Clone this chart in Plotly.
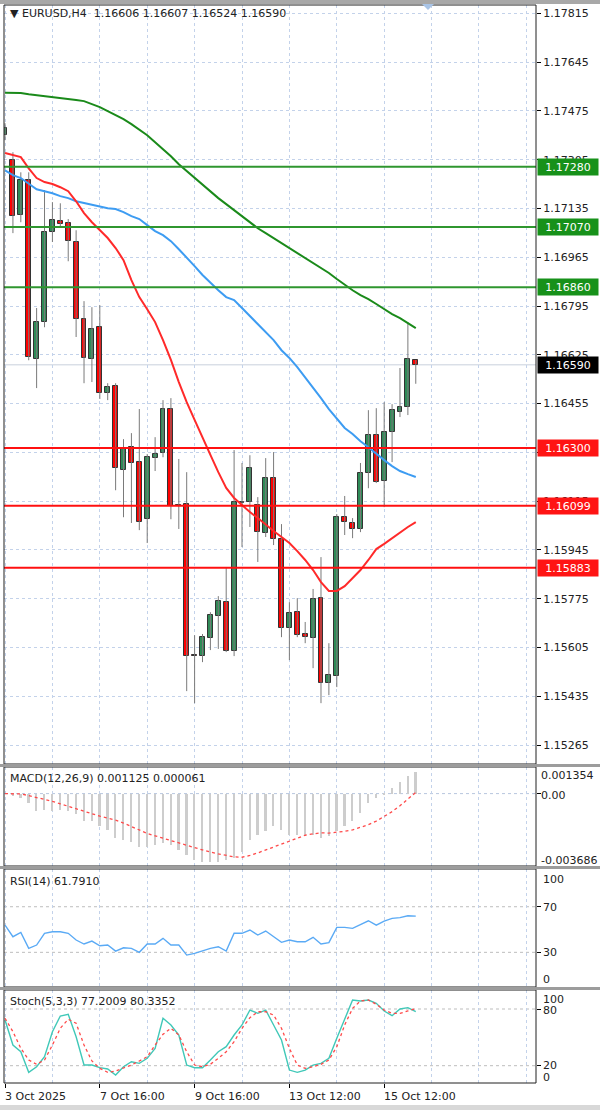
import plotly.graph_objects as go

# ---------------- data ----------------
bar_index = list(range(53))
opens = [1.17390, 1.17303, 1.17112, 1.17234, 1.16610, 1.16739, 1.17052, 1.17091, 1.17084, 1.17018,
         1.16749, 1.16610, 1.16721, 1.16491, 1.16516, 1.16223, 1.16303, 1.16251, 1.16052, 1.16265,
         1.16282, 1.16436, 1.16101, 1.16105, 1.15579, 1.15575, 1.15638, 1.15715, 1.15763, 1.15593,
         1.16112, 1.16112, 1.16101, 1.16004, 1.16195, 1.15983, 1.15673, 1.15728, 1.15652, 1.15638,
         1.15777, 1.15481, 1.15505, 1.16059, 1.16039, 1.16018, 1.16213, 1.16345, 1.16185, 1.16356,
         1.16425, 1.16443, 1.16606]
highs = [1.17432, 1.17331, 1.17261, 1.17261, 1.16788, 1.17199, 1.17157, 1.17153, 1.17098, 1.17059,
         1.16812, 1.16791, 1.16798, 1.16526, 1.16526, 1.16331, 1.16352, 1.16436, 1.16279, 1.16338,
         1.16467, 1.16474, 1.16262, 1.16216, 1.15648, 1.15652, 1.15728, 1.15784, 1.15882, 1.16293,
         1.16248, 1.16275, 1.16129, 1.16265, 1.16286, 1.16035, 1.15763, 1.15777, 1.15694, 1.15809,
         1.15920, 1.15620, 1.16070, 1.16133, 1.16056, 1.16248, 1.16432, 1.16439, 1.16460, 1.16453,
         1.16579, 1.16739, 1.16607]
lows = [1.17373, 1.17049, 1.17087, 1.16606, 1.16509, 1.16721, 1.17018, 1.17070, 1.16951, 1.16687,
        1.16526, 1.16530, 1.16471, 1.16467, 1.16153, 1.16059, 1.16039, 1.16014, 1.15969, 1.16220,
        1.16268, 1.16052, 1.16018, 1.15453, 1.15411, 1.15554, 1.15596, 1.15600, 1.15589, 1.15575,
        1.15955, 1.16025, 1.15903, 1.15990, 1.15962, 1.15641, 1.15561, 1.15641, 1.15620, 1.15533,
        1.15411, 1.15439, 1.15467, 1.15997, 1.15986, 1.16007, 1.16160, 1.16178, 1.16094, 1.16251,
        1.16408, 1.16415, 1.16524]
closes = [1.17415, 1.17108, 1.17234, 1.16617, 1.16739, 1.17052, 1.17094, 1.17080, 1.17021, 1.16749,
          1.16613, 1.16714, 1.16491, 1.16512, 1.16230, 1.16296, 1.16248, 1.16042, 1.16268, 1.16279,
          1.16436, 1.16098, 1.16098, 1.15575, 1.15575, 1.15641, 1.15718, 1.15767, 1.15593, 1.16112,
          1.16108, 1.16230, 1.16007, 1.16195, 1.15983, 1.15673, 1.15725, 1.15648, 1.15641, 1.15774,
          1.15481, 1.15509, 1.16059, 1.16042, 1.16018, 1.16213, 1.16345, 1.16181, 1.16356, 1.16432,
          1.16443, 1.16610, 1.16590]

ma_slow = [1.17538, 1.17538, 1.17537, 1.17533, 1.17530, 1.17527, 1.17523, 1.17520, 1.17516, 1.17513,
           1.17509, 1.17498, 1.17488, 1.17474, 1.17460, 1.17446, 1.17429, 1.17411, 1.17390, 1.17366,
           1.17342, 1.17317, 1.17289, 1.17265, 1.17241, 1.17216, 1.17192, 1.17171, 1.17150, 1.17129,
           1.17108, 1.17087, 1.17066, 1.17049, 1.17032, 1.17014, 1.16997, 1.16979, 1.16962, 1.16944,
           1.16927, 1.16910, 1.16889, 1.16868, 1.16850, 1.16833, 1.16819, 1.16802, 1.16784, 1.16767,
           1.16753, 1.16735, 1.16718]
ma_mid = [1.17268, 1.17251, 1.17241, 1.17220, 1.17202, 1.17195, 1.17188, 1.17178, 1.17171, 1.17160,
          1.17154, 1.17147, 1.17140, 1.17136, 1.17133, 1.17122, 1.17108, 1.17098, 1.17077, 1.17056,
          1.17042, 1.17021, 1.16993, 1.16965, 1.16934, 1.16903, 1.16875, 1.16850, 1.16826, 1.16816,
          1.16788, 1.16760, 1.16732, 1.16704, 1.16676, 1.16641, 1.16614, 1.16582, 1.16547, 1.16512,
          1.16474, 1.16436, 1.16401, 1.16370, 1.16349, 1.16324, 1.16303, 1.16279, 1.16258, 1.16237,
          1.16220, 1.16209, 1.16199]
ma_fast = [1.17328, 1.17321, 1.17314, 1.17275, 1.17241, 1.17227, 1.17220, 1.17209, 1.17195, 1.17160,
           1.17119, 1.17087, 1.17060, 1.17032, 1.16997, 1.16955, 1.16885, 1.16826, 1.16784, 1.16739,
           1.16676, 1.16607, 1.16530, 1.16460, 1.16398, 1.16335, 1.16276, 1.16216, 1.16161, 1.16126,
           1.16101, 1.16077, 1.16056, 1.16032, 1.16011, 1.15990, 1.15969, 1.15941, 1.15910, 1.15875,
           1.15833, 1.15802, 1.15802, 1.15819, 1.15847, 1.15875, 1.15910, 1.15948, 1.15966, 1.15986,
           1.16007, 1.16025, 1.16042]

macd_main = [0.0, -0.00010, -0.00020, -0.00046, -0.00089, -0.00082, -0.00089, -0.00082, -0.00089, -0.00106,
             -0.00141, -0.00141, -0.00167, -0.00184, -0.00226, -0.00235, -0.00244, -0.00270, -0.00270, -0.00261,
             -0.00253, -0.00261, -0.00286, -0.00312, -0.00338, -0.00347, -0.00347, -0.00347, -0.00338, -0.00329,
             -0.00295, -0.00235, -0.00209, -0.00192, -0.00167, -0.00184, -0.00209, -0.00209, -0.00209, -0.00209,
             -0.00226, -0.00218, -0.00192, -0.00167, -0.00141, -0.00098, -0.00046, -0.00020, -0.00003, 0.00031,
             0.00057, 0.00091, 0.001125]
macd_signal = [0.0, 0.0, -0.00002, -0.00010, -0.00020, -0.00028, -0.00040, -0.00052, -0.00065, -0.00078,
               -0.00092, -0.00103, -0.00115, -0.00125, -0.00135, -0.00150, -0.00167, -0.00185, -0.00203, -0.00215,
               -0.00228, -0.00240, -0.00252, -0.00263, -0.00275, -0.00287, -0.00298, -0.00307, -0.00316, -0.00322,
               -0.00324, -0.00315, -0.00302, -0.00287, -0.00274, -0.00258, -0.00240, -0.00225, -0.00212, -0.00205,
               -0.00200, -0.00201, -0.00198, -0.00192, -0.00185, -0.00172, -0.00158, -0.00140, -0.00118, -0.00092,
               -0.00062, -0.00030, 0.000061]

rsi = [53.9, 43.7, 47.5, 33.5, 36.4, 46.7, 48.1, 48.1, 46.7, 40.8,
       37.3, 39.9, 35.8, 36.4, 31.1, 34.0, 33.5, 30.0, 37.3, 37.3,
       42.3, 36.4, 36.4, 27.6, 29.1, 31.4, 33.5, 34.9, 31.1, 46.7,
       46.7, 49.6, 45.2, 48.7, 43.7, 38.8, 40.8, 39.3, 39.3, 43.2,
       37.3, 38.5, 51.9, 51.9, 51.0, 54.6, 57.7, 53.9, 57.4, 59.8,
       60.4, 62.1, 61.79]

stoch_k = [68.4, 41.9, 34.8, 13.0, 18.9, 29.5, 56.0, 72.6, 74.4, 50.7,
           20.7, 20.7, 17.9, 16.5, 10.2, 18.9, 24.2, 22.5, 27.8, 38.4,
           70.2, 63.1, 52.5, 20.7, 17.9, 17.9, 26.0, 34.8, 40.1, 52.5,
           63.1, 78.9, 75.4, 78.9, 63.1, 47.2, 15.4, 13.0, 15.4, 20.7,
           22.5, 27.8, 49.0, 70.2, 89.5, 88.5, 89.5, 86.0, 77.9, 72.9,
           80.0, 81.4, 77.2]
stoch_d = [70.2, 56.0, 38.4, 26.0, 21.5, 26.0, 41.9, 59.6, 69.1, 64.9,
           41.9, 25.0, 17.2, 13.0, 14.4, 17.2, 20.7, 25.0, 29.5, 41.9,
           53.2, 59.6, 52.5, 34.8, 20.7, 18.9, 21.5, 27.8, 34.8, 45.4,
           59.6, 70.8, 77.1, 77.1, 73.6, 59.6, 38.4, 20.7, 17.2, 18.9,
           21.5, 26.0, 40.1, 63.1, 80.7, 88.5, 89.5, 85.0, 78.9, 75.4,
           75.4, 77.9, 80.34]

resistance_levels = [1.17280, 1.17070, 1.16860]
support_levels = [1.16300, 1.16099, 1.15883]
last_price = 1.16590
price_ticks = [1.17815, 1.17645, 1.17475, 1.17305, 1.17135, 1.16965, 1.16795, 1.16625,
               1.16455, 1.16285, 1.16115, 1.15945, 1.15775, 1.15605, 1.15435, 1.15265]
x_tick_index = [0, 12, 24, 36, 48]
x_tick_labels = ["3 Oct 2025", "7 Oct 16:00", "9 Oct 16:00", "13 Oct 12:00", "15 Oct 12:00"]
macd_labels = ["0.001354", "0.00", "-0.003686"]
rsi_labels = ["100", "70", "30", "0"]
stoch_labels = ["100", "80", "20", "0"]

# ---------------- layout helpers ----------------
W, H = 600, 1110
L, R, T, B = 4, 64, 5, 27
PW = W - L - R
PH = H - T - B


def fx(px):
    return (px - L) / PW


def fy(py):
    return (H - B - py) / PH


FONT = "DejaVu Sans"
GRID = "#c3d2ea"
GDASH = "3px,3px"
X_RANGE = [-0.13, 67.22]
BULL = "#2e8b57"
BEAR = "#ff0000"

fig = go.Figure()

# candles: wicks
wx, wy = [], []
for i, hi, lo in zip(bar_index, highs, lows):
    wx += [i, i, None]
    wy += [lo, hi, None]
fig.add_trace(go.Scatter(x=wx, y=wy, mode="lines", line=dict(color="#7a7a7a", width=1),
                         hoverinfo="skip", xaxis="x", yaxis="y"))
# candles: bodies
base = [min(o, c) for o, c in zip(opens, closes)]
height = [max(abs(c - o), 0.00002) for o, c in zip(opens, closes)]
colors = [BULL if c > o else BEAR for o, c in zip(opens, closes)]
fig.add_trace(go.Bar(x=bar_index, y=height, base=base, width=0.62,
                     marker=dict(color=colors, line=dict(color="#333333", width=1)),
                     xaxis="x", yaxis="y"))
# moving averages
fig.add_trace(go.Scatter(x=bar_index, y=ma_slow, mode="lines", line=dict(color="#1a8a1a", width=2),
                         xaxis="x", yaxis="y"))
fig.add_trace(go.Scatter(x=bar_index, y=ma_mid, mode="lines", line=dict(color="#3d9cf2", width=2),
                         xaxis="x", yaxis="y"))
fig.add_trace(go.Scatter(x=bar_index, y=ma_fast, mode="lines", line=dict(color="#ff2a2a", width=2),
                         xaxis="x", yaxis="y"))

# MACD
fig.add_trace(go.Bar(x=bar_index, y=macd_main, width=0.22, marker=dict(color="#cdcdcd", line=dict(width=0)),
                     xaxis="x2", yaxis="y2"))
fig.add_trace(go.Scatter(x=bar_index, y=macd_signal, mode="lines",
                         line=dict(color="#ff4a4a", width=1.3, dash="dot"), xaxis="x2", yaxis="y2"))
# RSI
fig.add_trace(go.Scatter(x=bar_index, y=rsi, mode="lines", line=dict(color="#5aaaf5", width=1.4),
                         xaxis="x3", yaxis="y3"))
# Stochastic
fig.add_trace(go.Scatter(x=bar_index, y=stoch_k, mode="lines", line=dict(color="#40c8b8", width=1.4),
                         xaxis="x4", yaxis="y4"))
fig.add_trace(go.Scatter(x=bar_index, y=stoch_d, mode="lines",
                         line=dict(color="#ff4a4a", width=1.3, dash="dot"), xaxis="x4", yaxis="y4"))

shapes = []
annotations = []

# level lines
for lv in resistance_levels:
    shapes.append(dict(type="line", xref="paper", yref="y", x0=0, x1=1, y0=lv, y1=lv,
                       line=dict(color="#2f962f", width=2)))
    annotations.append(dict(xref="paper", yref="y", x=fx(537), y=lv, xanchor="left", yanchor="middle",
                            text=f"{lv:.5f}", showarrow=False, bgcolor="#17911a", width=58, height=14,
                            font=dict(family=FONT, size=11, color="white")))
for lv in support_levels:
    shapes.append(dict(type="line", xref="paper", yref="y", x0=0, x1=1, y0=lv, y1=lv,
                       line=dict(color="#ff1010", width=2)))
    annotations.append(dict(xref="paper", yref="y", x=fx(537), y=lv, xanchor="left", yanchor="middle",
                            text=f"{lv:.5f}", showarrow=False, bgcolor="#ff1414", width=58, height=14,
                            font=dict(family=FONT, size=11, color="white")))
shapes.append(dict(type="line", xref="paper", yref="y", x0=0, x1=1, y0=last_price, y1=last_price,
                   line=dict(color="#c8d0dc", width=1), layer="below"))
annotations.append(dict(xref="paper", yref="y", x=fx(537), y=last_price, xanchor="left", yanchor="middle",
                        text=f"{last_price:.5f}", showarrow=False, bgcolor="#000000", width=58, height=14,
                        font=dict(family=FONT, size=11, color="white")))

# indicator reference lines
shapes.append(dict(type="line", xref="paper", yref="y2", x0=0, x1=1, y0=0, y1=0,
                   line=dict(color="#b8c6de", width=1, dash="dot"), layer="below"))
for v in (70, 30):
    shapes.append(dict(type="line", xref="paper", yref="y3", x0=0, x1=1, y0=v, y1=v,
                       line=dict(color="#bdbdbd", width=1, dash="dot"), layer="below"))
for v in (80, 20):
    shapes.append(dict(type="line", xref="paper", yref="y4", x0=0, x1=1, y0=v, y1=v,
                       line=dict(color="#bdbdbd", width=1, dash="dot"), layer="below"))

# panel frames and separators
panels = [(5, 764), (767, 866), (869, 987), (990, 1083)]
for top, bot in panels:
    shapes.append(dict(type="rect", xref="paper", yref="paper", x0=fx(4), x1=fx(536), y0=fy(bot), y1=fy(top),
                       line=dict(color="#202020", width=1), fillcolor="rgba(0,0,0,0)"))
for a, b in [(764, 767), (866, 869), (987, 990)]:
    shapes.append(dict(type="rect", xref="paper", yref="paper", x0=fx(0), x1=fx(600), y0=fy(b), y1=fy(a),
                       line=dict(width=0), fillcolor="#9c9c9c"))
shapes.append(dict(type="rect", xref="paper", yref="paper", x0=fx(0), x1=fx(600), y0=fy(4), y1=fy(0),
                   line=dict(width=0), fillcolor="#a8a8a8"))
shapes.append(dict(type="rect", xref="paper", yref="paper", x0=fx(0), x1=fx(600), y0=fy(1110), y1=fy(1105),
                   line=dict(width=0), fillcolor="#d8d8d8"))
shapes.append(dict(type="path", xref="paper", yref="paper",
                   path=f"M {fx(422)},{fy(4)} L {fx(434)},{fy(4)} L {fx(428)},{fy(10)} Z",
                   fillcolor="#a9c4e6", line=dict(width=0)))

# titles
annotations.append(dict(xref="paper", yref="paper", x=fx(8), y=fy(13), xanchor="left", yanchor="middle",
                        text="\u25bc\u00a0EURUSD,H4\u00a0\u00a01.16606\u00a01.16607\u00a01.16524\u00a01.16590",
                        showarrow=False, font=dict(family=FONT, size=11, color="#222")))
annotations.append(dict(xref="paper", yref="paper", x=fx(8), y=fy(778), xanchor="left", yanchor="middle",
                        text="MACD(12,26,9)\u00a00.001125\u00a00.000061", showarrow=False,
                        font=dict(family=FONT, size=11, color="#222")))
annotations.append(dict(xref="paper", yref="paper", x=fx(8), y=fy(881), xanchor="left", yanchor="middle",
                        text="RSI(14)\u00a061.7910", showarrow=False,
                        font=dict(family=FONT, size=11, color="#222")))
annotations.append(dict(xref="paper", yref="paper", x=fx(8), y=fy(1001), xanchor="left", yanchor="middle",
                        text="Stoch(5,3,3)\u00a077.2009\u00a080.3352", showarrow=False,
                        font=dict(family=FONT, size=11, color="#222")))

# indicator scale labels
for txt, py in zip(macd_labels, [775, 795, 860]):
    annotations.append(dict(xref="paper", yref="paper", x=fx(539), y=fy(py), xanchor="left", yanchor="middle",
                            text=txt, showarrow=False, font=dict(family=FONT, size=11, color="#222")))
for txt, py in zip(rsi_labels, [879, 907, 952, 980]):
    annotations.append(dict(xref="paper", yref="paper", x=fx(541), y=fy(py), xanchor="left", yanchor="middle",
                            text=txt, showarrow=False, font=dict(family=FONT, size=11, color="#222")))
for txt, py in zip(stoch_labels, [999, 1011, 1065, 1077]):
    annotations.append(dict(xref="paper", yref="paper", x=fx(541), y=fy(py), xanchor="left", yanchor="middle",
                            text=txt, showarrow=False, font=dict(family=FONT, size=11, color="#222")))

# time labels
for idx, txt in zip(x_tick_index, x_tick_labels):
    annotations.append(dict(xref="x4", yref="paper", x=idx, y=fy(1096), xanchor="left", yanchor="middle",
                            text=txt, showarrow=False, xshift=-2,
                            font=dict(family=FONT, size=11, color="#222")))

xcommon = dict(range=X_RANGE, showticklabels=False, showgrid=True, gridcolor=GRID, griddash=GDASH,
               gridwidth=1, tickmode="linear", tick0=0, dtick=6, zeroline=False, showline=False, ticks="")

fig.update_layout(
    width=W, height=H,
    margin=dict(l=L, r=R, t=T, b=B),
    paper_bgcolor="white", plot_bgcolor="white",
    showlegend=False, barmode="overlay", bargap=0,
    font=dict(family=FONT, size=11, color="#222"),
    xaxis=dict(**xcommon, anchor="y"),
    xaxis2=dict(**xcommon, anchor="y2", matches="x"),
    xaxis3=dict(**xcommon, anchor="y3", matches="x"),
    xaxis4=dict(range=X_RANGE, anchor="y4", matches="x", showticklabels=False, showgrid=True,
                gridcolor=GRID, griddash=GDASH, tickmode="array", tickvals=x_tick_index,
                ticks="outside", ticklen=4, tickcolor="#000", zeroline=False, showline=False,
                minor=dict(tick0=0, dtick=6, showgrid=True, gridcolor=GRID, griddash=GDASH, ticks="")),
    yaxis=dict(domain=[fy(764), fy(5)], range=[1.15199, 1.17844], side="right", tickmode="array",
               tickvals=price_ticks, ticktext=[f"{v:.5f}" for v in price_ticks], ticks="outside",
               ticklen=4, tickcolor="#000", showgrid=True, gridcolor=GRID, griddash=GDASH,
               zeroline=False, showline=False, tickfont=dict(family=FONT, size=11, color="#222")),
    yaxis2=dict(domain=[fy(866), fy(767)], range=[-0.003686, 0.001354], side="right",
                showticklabels=False, showgrid=False, zeroline=False, tickmode="array",
                tickvals=[0.0], ticks="outside", ticklen=4, tickcolor="#000"),
    yaxis3=dict(domain=[fy(987), fy(869)], range=[-0.4, 103.1], side="right", showticklabels=False,
                showgrid=False, zeroline=False, tickmode="array", tickvals=[70, 30], ticks="outside",
                ticklen=4, tickcolor="#000"),
    yaxis4=dict(domain=[fy(1083), fy(990)], range=[1.7, 100.1], side="right", showticklabels=False,
                showgrid=False, zeroline=False, tickmode="array", tickvals=[80, 20], ticks="outside",
                ticklen=4, tickcolor="#000"),
    shapes=shapes, annotations=annotations,
)

fig.write_html("out.html", config={"displayModeBar": False},
               post_script="document.body.style.margin='0';document.body.style.overflow='hidden';")
